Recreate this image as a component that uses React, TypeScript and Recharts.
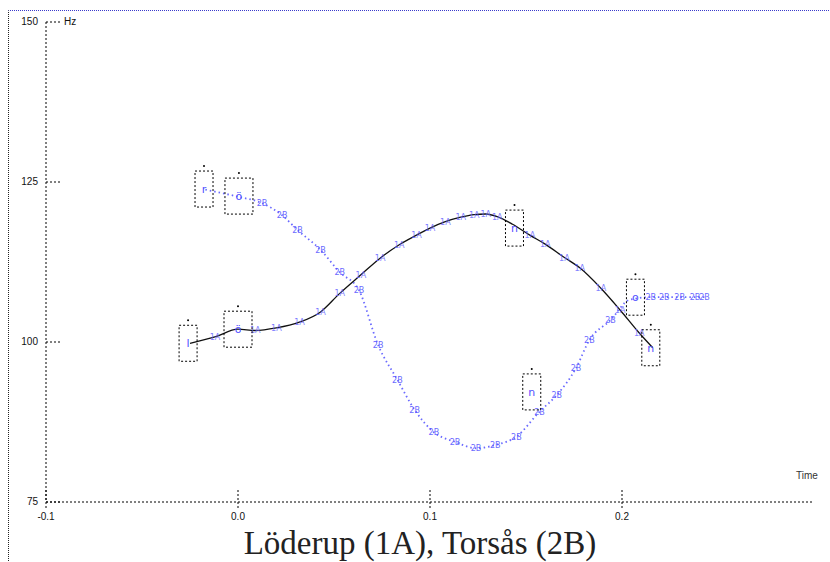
import React from 'react'
import { ComposedChart, Line, Scatter, XAxis, YAxis } from 'recharts'

// time axis (s) and pitch axis (Hz)
const timeTicks = [-0.1, 0, 0.1, 0.2]
const hzTicks = [75, 100, 125, 150]

// Löderup (1A)
const loderupTime = [-0.025, -0.012, 0, 0.009, 0.02, 0.032, 0.043, 0.053, 0.064, 0.074, 0.084, 0.093, 0.1, 0.108, 0.116, 0.123, 0.129, 0.135, 0.143, 0.152, 0.16, 0.17, 0.178, 0.189, 0.199, 0.209, 0.216]
const loderupHz = [99.8, 100.8, 102, 101.8, 102.2, 103.1, 104.7, 107.6, 110.5, 113.1, 115.2, 116.7, 117.8, 118.8, 119.5, 119.9, 120, 119.6, 118.4, 116.7, 115.3, 113.2, 111.6, 108.4, 105, 101.4, 99.1]

// Torsås (2B)
const torsasTime = [-0.017, 0, 0.0125, 0.023, 0.031, 0.043, 0.053, 0.063, 0.073, 0.083, 0.092, 0.102, 0.113, 0.124, 0.134, 0.145, 0.157, 0.166, 0.176, 0.183, 0.194, 0.204, 0.215, 0.222, 0.23, 0.238, 0.243]
const torsasHz = [123.8, 122.7, 121.7, 119.8, 117.5, 114.4, 110.9, 108.1, 99.5, 94.1, 89.4, 85.9, 84.4, 83.4, 83.9, 85.2, 89.1, 91.7, 95.9, 100.3, 103.4, 106.6, 107, 107, 107, 107, 107]

// segment boundary marks
const boxTime = [-0.0177, 0.0005, -0.026, 0, 0.144, 0.153, 0.207, 0.215]
const boxHz = [123.9, 122.8, 99.8, 102, 117.8, 92.2, 107, 99.1]
const boxLabel = ['r', 'ö', 'l', 'ö', 'n', 'n', 'o', 'n']

const loderup = loderupTime.map((t, i) => ({ t, hz: loderupHz[i] }))
const torsas = torsasTime.map((t, i) => ({ t, hz: torsasHz[i] }))
const boxes = boxTime.map((t, i) => ({ t, hz: boxHz[i], label: boxLabel[i] }))

const small = { fontFamily: 'Liberation Sans', fontSize: 10 }

// a glyph is not drawn where a boundary box already sits
const insideBox = (t: number, hz: number) =>
  boxes.some(b => Math.abs(b.t - t) < 0.006 && Math.abs(b.hz - hz) < 2.5)

function YTick(props: any) {
  const { x, y, payload } = props
  const ax = x + 8
  return (
    <g>
      <line x1={ax} x2={ax + 14} y1={y} y2={y} stroke="#000" strokeDasharray="2 2" />
      <text x={ax - 8} y={y + 3} textAnchor="end" fill="#111" style={small}>{payload.value}</text>
      {payload.value === 150 && (
        <text x={ax + 18} y={y + 3} fill="#111" style={small}>Hz</text>
      )}
    </g>
  )
}

function XTick(props: any) {
  const { x, y, payload } = props
  const ay = y - 8
  return (
    <g>
      <line x1={x} x2={x} y1={ay - 12} y2={ay + 6} stroke="#000" strokeDasharray="2 2" />
      <text x={x} y={ay + 18} textAnchor="middle" fill="#111" style={small}>{payload.value.toFixed(1)}</text>
    </g>
  )
}

function Glyph(text: string, colour: string) {
  return (props: any) => {
    const { cx, cy, index, payload } = props
    if (insideBox(payload.t, payload.hz)) return <g key={index} />
    return (
      <text key={index} x={cx} y={cy + 3} textAnchor="middle" fill={colour} opacity={0.85}
        style={{ fontFamily: 'DejaVu Sans', fontSize: 8 }}>{text}</text>
    )
  }
}

function BoxMark(props: any) {
  const { cx, cy, payload } = props
  const w = payload.label === 'ö' ? 28 : 18
  const h = 36
  return (
    <g>
      <rect x={cx - w / 2} y={cy - h / 2} width={w} height={h} fill="none" stroke="#000" strokeDasharray="2 2" />
      <circle cx={cx} cy={cy - h / 2 - 5} r={1} fill="#000" />
      <text x={cx} y={cy + 4} textAnchor="middle" fill="#5050ff" style={{ fontFamily: 'DejaVu Sans', fontSize: 11 }}>{payload.label}</text>
    </g>
  )
}

export default function App() {
  return (
    <div style={{ position: 'absolute', left: 0, top: 0, width: 830, height: 562, background: '#fff' }}>
      <div style={{ position: 'absolute', left: 8, top: 10, width: 822, height: 552, borderTop: '1px dotted #3a3acc', borderLeft: '1px dotted #222' }} />
      <ComposedChart width={830} height={562} margin={{ top: 22, right: 16, left: 0, bottom: 0 }}>
        <XAxis type="number" dataKey="t" domain={[-0.1, 0.3]} ticks={timeTicks} height={60}
          tickLine={false} tick={<XTick />} axisLine={{ stroke: '#000', strokeDasharray: '2 2' }} allowDataOverflow />
        <YAxis type="number" dataKey="hz" domain={[75, 150]} ticks={hzTicks} width={46}
          tickLine={false} tick={<YTick />} axisLine={{ stroke: '#000', strokeDasharray: '2 2' }} allowDataOverflow />
        <Line data={torsas} dataKey="hz" type="monotone" stroke="#6a6aff" strokeWidth={1.8} strokeDasharray="1.5 3"
          dot={Glyph('2B', '#5050ff')} isAnimationActive={false} />
        <Line data={loderup} dataKey="hz" type="monotone" stroke="#111" strokeWidth={1.3}
          dot={Glyph('1A', '#6a6aff')} isAnimationActive={false} />
        <Scatter data={boxes} dataKey="hz" shape={<BoxMark />} isAnimationActive={false} />
      </ComposedChart>
      <div style={{ position: 'absolute', left: 796, top: 470, fontFamily: 'Liberation Sans', fontSize: 10, color: '#333' }}>Time</div>
      <div style={{ position: 'absolute', left: 0, width: 840, top: 523, textAlign: 'center', fontFamily: 'Liberation Serif', fontSize: 33, lineHeight: '40px', color: '#222' }}>
        Löderup (1A), Torsås (2B)
      </div>
    </div>
  )
}
